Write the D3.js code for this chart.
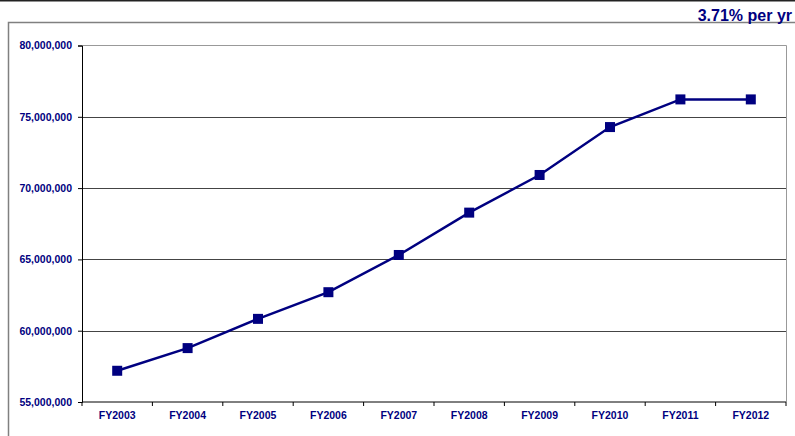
<!DOCTYPE html>
<html>
<head>
<meta charset="utf-8">
<script src="https://cdn.jsdelivr.net/npm/d3@7"></script>
<style>
    body { margin: 0; background: #fff; }
    text { font-family: "Liberation Sans", Arial, sans-serif; font-weight: bold; fill: #000080; }
</style>
</head>
<body>
<div id="chart"></div>
<script>
// Datos

const years = ["FY2003", "FY2004", "FY2005", "FY2006", "FY2007", "FY2008", "FY2009", "FY2010", "FY2011", "FY2012"]
const values = [57190000, 58780000, 60830000, 62700000, 65310000, 68280000, 70920000, 74280000, 76220000, 76220000]
const yTicks = [55000000, 60000000, 65000000, 70000000, 75000000, 80000000]
const rateLabel = "3.71% per yr"

// Constantes

const width = 795
const height = 436
const margin = { top: 46, bottom: 34, left: 82, right: 9 }
const navy = "#000080"

const svg = d3.select("#chart").append("svg").attr("width", width).attr("height", height)

// marco exterior y linea superior
svg.append("line")
    .attr("x1", 0).attr("x2", width).attr("y1", 0.75).attr("y2", 0.75)
    .attr("stroke", "#222").attr("stroke-width", 1.5)
svg.append("path")
    .attr("d", `M${width + 5},22.5 H8.5 V${height + 5}`)
    .attr("fill", "none").attr("stroke", "#808080").attr("stroke-width", 1.5)

svg.append("text")
    .attr("x", 792)
    .attr("y", 21)
    .attr("text-anchor", "end")
    .style("font-size", "16px")
    .text(rateLabel)

// Escalas

const x = d3.scaleBand().domain(years).range([margin.left, width - margin.right])
const y = d3.scaleLinear().domain([55000000, 80000000]).range([height - margin.bottom, margin.top - 0.5])

// borde del area de trazado
svg.append("path")
    .attr("d", `M${margin.left},${y(80000000)} H${x.range()[1] + 0.5} V${y(55000000)}`)
    .attr("fill", "none").attr("stroke", "#999").attr("stroke-width", 1)

// Rejilla
svg.append("g").selectAll("line").data(yTicks.slice(1, -1))
    .join("line")
        .attr("x1", margin.left).attr("x2", x.range()[1])
        .attr("y1", d => Math.round(y(d)) + 0.5).attr("y2", d => Math.round(y(d)) + 0.5)
        .attr("stroke", "#444").attr("stroke-width", 1)

// Ejes
const yAxis = d3.axisLeft(y).tickValues(yTicks).tickSize(4).tickPadding(6).tickFormat(d3.format(","))
const yAxisGroup = svg.append("g").attr("transform", `translate(${margin.left},0)`).call(yAxis)
yAxisGroup.selectAll("text").style("font-size", "10.5px")

const xAxisGroup = svg.append("g").attr("transform", `translate(0,${height - margin.bottom})`)
xAxisGroup.append("line")
    .attr("x1", margin.left).attr("x2", x.range()[1])
    .attr("stroke", "#000")
xAxisGroup.selectAll(".tk").data(years.map(d => x(d)).concat([x.range()[1]]))
    .join("line").attr("class", "tk")
        .attr("x1", d => d).attr("x2", d => d).attr("y1", 0).attr("y2", 4)
        .attr("stroke", "#000")
xAxisGroup.selectAll("text").data(years)
    .join("text")
        .attr("x", d => x(d) + x.bandwidth() / 2)
        .attr("y", 17)
        .attr("text-anchor", "middle")
        .style("font-size", "10.5px")
        .text(d => d)

svg.selectAll(".domain").attr("stroke", "#000")
svg.selectAll(".tick line").attr("stroke", "#000")

// Linea y marcadores
const line = d3.line().x((d, i) => x(years[i]) + x.bandwidth() / 2).y(d => y(d))

svg.append("path").datum(values)
    .attr("d", line)
    .attr("fill", "none")
    .attr("stroke", navy)
    .attr("stroke-width", 2.5)

svg.selectAll(".marker").data(values)
    .join("rect").attr("class", "marker")
        .attr("x", (d, i) => x(years[i]) + x.bandwidth() / 2 - 5)
        .attr("y", d => y(d) - 5)
        .attr("width", 10)
        .attr("height", 10)
        .attr("fill", navy)
</script>
</body>
</html>
